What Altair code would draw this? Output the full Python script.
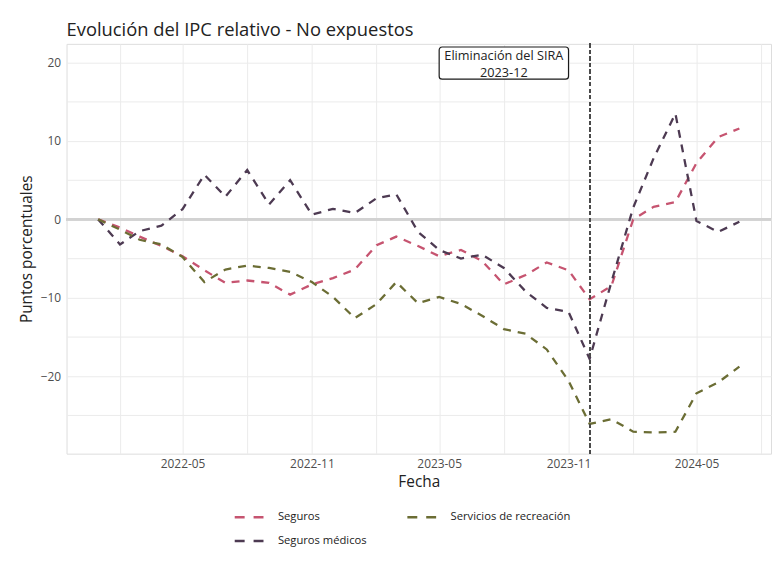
import altair as alt
import pandas as pd

months = pd.date_range("2022-01-01", "2024-07-01", freq="MS").strftime("%Y-%m-%dT00:00:00").tolist()

seguros = [0, -1.05, -2.2, -3.4, -4.7, -6.5, -8.1, -7.8, -8.1, -9.6, -8.3, -7.5,
           -6.4, -3.3, -2.2, -3.4, -4.7, -3.9, -5.3, -8.3, -7.1, -5.5, -6.5, -10.2,
           -8.5, 0.0, 1.6, 2.2, 7.2, 10.5, 11.6]
seguros_medicos = [0, -3.2, -1.5, -0.8, 1.3, 5.7, 2.9, 6.3, 1.9, 5.0, 0.6, 1.35,
                   0.8, 2.7, 3.2, -1.6, -3.9, -5.0, -4.5, -6.2, -9.2, -11.3, -11.8, -17.8,
                   -8.0, 1.5, 7.8, 13.5, -0.2, -1.6, -0.3]
servicios = [0, -1.3, -2.6, -3.2, -4.8, -8.0, -6.4, -5.9, -6.2, -6.7, -8.0, -9.9,
             -12.6, -10.8, -8.0, -10.7, -9.9, -10.8, -12.3, -14.0, -14.6, -16.6, -20.6, -26.1,
             -25.5, -27.1, -27.2, -27.1, -22.2, -20.8, -18.8]

series_names = ["Seguros", "Seguros médicos", "Servicios de recreación"]
series_colors = ["#c65470", "#4d3a52", "#6b6d34"]
legend_order = ["Seguros", "Servicios de recreación", "Seguros médicos"]

y_ticks = [-25, -20, -15, -10, -5, 0, 5, 10, 15, 20]
x_grid = ["2022-02", "2022-05", "2022-08", "2022-11", "2023-02", "2023-05",
          "2023-08", "2023-11", "2024-02", "2024-05", "2024-08"]

event_date = (2023, 12, 1)
annot_text = ["Eliminación del SIRA", "2023-12"]
annot_x = "2023-08-01T00:00:00"
annot_y = 20.8
annot_box_x = ["2023-05-01T00:00:00", "2023-11-01T00:00:00"]
annot_box_y = [17.9, 22.0]

rows = []
for name, vals in zip(series_names, [seguros, seguros_medicos, servicios]):
    for m, v in zip(months, vals):
        rows.append({"Fecha": m, "valor": v, "serie": name})
df = pd.DataFrame(rows)

color_map = dict(zip(series_names, series_colors))

FONT = "Open Sans"

x_scale = alt.Scale(domain=[alt.DateTime(year=2021, month=11, date=17),
                            alt.DateTime(year=2024, month=8, date=15)])
y_scale = alt.Scale(domain=[-29.9, 22.4], nice=False, zero=False)

x_vals = [alt.DateTime(year=int(s[:4]), month=int(s[5:]), date=1) for s in x_grid]

x_axis = alt.Axis(
    values=x_vals,
    labelExpr="(month(datum.value) == 4 || month(datum.value) == 10) ? timeFormat(datum.value, '%Y-%m') : ''",
    grid=True, gridColor="#ebebeb", gridWidth=1,
    domain=False, ticks=False, labelColor="#4d4d4d", labelFontSize=12,
    labelPadding=5, title="Fecha", titleFontSize=15.5, titleFontWeight="normal",
    titleColor="#222222", titlePadding=5, labelFont=FONT, titleFont=FONT,
)
y_axis = alt.Axis(
    values=y_ticks,
    labelExpr="datum.value % 10 == 0 ? datum.label : ''",
    grid=True, gridColor="#ebebeb", gridWidth=1,
    domain=False, ticks=False, labelColor="#4d4d4d", labelFontSize=12,
    labelPadding=6, title="Puntos porcentuales", titleFontSize=15.5,
    titleFontWeight="normal", titleColor="#222222", titlePadding=6,
    labelFont=FONT, titleFont=FONT,
)

base = alt.Chart(df)

hline = alt.Chart(df).mark_rule(color="#d2d2d2", strokeWidth=2).encode(
    y=alt.Y(datum=0, type="quantitative", scale=y_scale)
)

lines = base.mark_line(strokeWidth=2.3, strokeDash=[8, 7], strokeCap="butt").encode(
    x=alt.X("Fecha:T", scale=x_scale, axis=x_axis),
    y=alt.Y("valor:Q", scale=y_scale, axis=y_axis),
    color=alt.Color(
        "serie:N",
        scale=alt.Scale(domain=legend_order, range=[color_map[n] for n in legend_order]),
        legend=alt.Legend(
            title=None, orient="none", legendX=168, legendY=469, direction="horizontal",
            columns=2, padding=0,
            symbolType="stroke", symbolDash=[10, 9], symbolStrokeWidth=2.5,
            symbolSize=900, labelFontSize=11.3, labelFont=FONT, labelColor="#222222",
            columnPadding=39, rowPadding=8, clipHeight=16, labelOffset=12,
        ),
    ),
    detail="serie:N",
)

vline = alt.Chart(df).mark_rule(color="#4a4a4a", strokeWidth=1.1, strokeDash=[3.5, 3]).encode(
    x=alt.X(datum=alt.DateTime(year=event_date[0], month=event_date[1], date=event_date[2]),
            type="temporal", scale=x_scale)
)

box_df = pd.DataFrame({"x": [annot_box_x[0]], "x2": [annot_box_x[1]],
                       "y": [annot_box_y[0]], "y2": [annot_box_y[1]]})
box = alt.Chart(box_df).mark_rect(fill="white", stroke="#1a1a1a", strokeWidth=1.2, cornerRadius=3).encode(
    x=alt.X("x:T", scale=x_scale), x2="x2:T",
    y=alt.Y("y:Q", scale=y_scale), y2="y2:Q",
)

txt_df = pd.DataFrame({"x": [annot_x], "y": [annot_y], "t": ["\n".join(annot_text)]})
txt = alt.Chart(txt_df).mark_text(
    font=FONT, fontSize=12.8, color="#222222", lineBreak="\n", lineHeight=17,
    align="center", baseline="middle",
).encode(
    x=alt.X("x:T", scale=x_scale), y=alt.Y("y:Q", scale=y_scale), text="t:N"
)

chart = alt.layer(hline, lines, vline, box, txt).properties(
    width=710, height=413,
    title=alt.Title("Evolución del IPC relativo - No expuestos", anchor="start", frame="group",
                    font=FONT, fontSize=18.5, fontWeight="normal", color="#222222", offset=4),
    padding={"left": 11, "top": 10, "right": 0, "bottom": 5},
).configure_view(stroke=None).configure(background="white")

chart.save("out.html", embed_options={"renderer": "svg", "actions": False})
